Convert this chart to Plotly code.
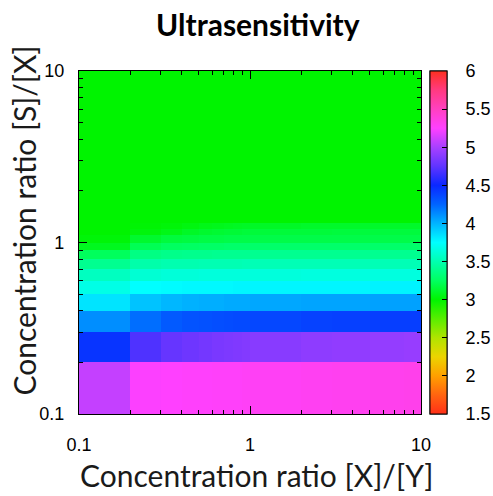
import plotly.graph_objects as go

# Cell edges (log axes)
x_edges = [0.1, 0.2, 0.3, 0.4, 0.5, 0.6, 0.7, 0.8, 0.9, 1, 2, 3, 4, 5, 6, 7, 8, 9, 10]
y_edges = [0.1, 0.2, 0.3, 0.4, 0.5, 0.6, 0.7, 0.8, 0.9, 1.0, 1.1, 1.2, 1.3, 10]

# Ultrasensitivity values, one row per y-cell (bottom to top), one value per x-cell
row_01 = [5.08, 5.24, 5.25, 5.26, 5.26, 5.27, 5.27, 5.27, 5.28, 5.29, 5.30, 5.31, 5.31, 5.32, 5.32, 5.32, 5.33, 5.33]
row_02 = [4.45, 4.70, 4.77, 4.80, 4.82, 4.84, 4.85, 4.86, 4.87, 4.89, 4.91, 4.92, 4.92, 4.93, 4.93, 4.93, 4.94, 4.94]
row_03 = [4.12, 4.22, 4.29, 4.32, 4.33, 4.34, 4.35, 4.36, 4.36, 4.37, 4.39, 4.40, 4.40, 4.41, 4.41, 4.41, 4.41, 4.41]
row_04 = [3.84, 3.95, 3.99, 4.01, 4.02, 4.02, 4.03, 4.03, 4.03, 4.04, 4.05, 4.05, 4.05, 4.06, 4.06, 4.06, 4.06, 4.06]
row_05 = [3.67, 3.75, 3.76, 3.77, 3.77, 3.77, 3.77, 3.78, 3.78, 3.78, 3.78, 3.78, 3.78, 3.79, 3.79, 3.79, 3.79, 3.79]
row_06 = [3.55, 3.61, 3.63, 3.63, 3.64, 3.64, 3.64, 3.64, 3.64, 3.64, 3.65, 3.65, 3.65, 3.65, 3.65, 3.65, 3.65, 3.65]
row_07 = [3.40, 3.48, 3.50, 3.50, 3.51, 3.51, 3.51, 3.51, 3.52, 3.52, 3.52, 3.52, 3.52, 3.52, 3.52, 3.52, 3.52, 3.52]
row_08 = [3.24, 3.36, 3.38, 3.39, 3.39, 3.40, 3.40, 3.40, 3.40, 3.40, 3.40, 3.40, 3.40, 3.40, 3.40, 3.40, 3.40, 3.40]
row_09 = [3.08, 3.22, 3.25, 3.26, 3.27, 3.27, 3.28, 3.28, 3.28, 3.28, 3.28, 3.28, 3.28, 3.28, 3.28, 3.28, 3.28, 3.28]
row_10 = [3.02, 3.12, 3.16, 3.17, 3.18, 3.18, 3.19, 3.19, 3.19, 3.19, 3.19, 3.19, 3.19, 3.19, 3.19, 3.19, 3.19, 3.19]
row_11 = [3.00, 3.03, 3.06, 3.10, 3.12, 3.13, 3.14, 3.14, 3.15, 3.15, 3.15, 3.16, 3.16, 3.16, 3.16, 3.16, 3.16, 3.16]
row_12 = [3.00, 3.01, 3.02, 3.04, 3.06, 3.07, 3.08, 3.09, 3.10, 3.10, 3.11, 3.11, 3.11, 3.11, 3.11, 3.11, 3.11, 3.11]
row_13 = [3.00, 3.00, 3.00, 3.00, 3.00, 3.00, 3.00, 3.00, 3.00, 3.00, 3.00, 3.00, 3.00, 3.00, 3.00, 3.00, 3.00, 3.00]

z_rows = [row_01, row_02, row_03, row_04, row_05, row_06, row_07, row_08, row_09,
          row_10, row_11, row_12, row_13]

# Colour bar
cb_ticks = [1.5, 2, 2.5, 3, 3.5, 4, 4.5, 5, 5.5, 6]
axis_ticks = [0.1, 1, 10]
axis_ticklabels = ["0.1", "1", "10"]
minor_ticks = [0.2, 0.3, 0.4, 0.5, 0.6, 0.7, 0.8, 0.9, 2, 3, 4, 5, 6, 7, 8, 9]

zmin, zmax = 1.5, 6.0
palette = [
    (1.5, "#ff3018"), (1.75, "#ff6410"), (2.0, "#ffa000"), (2.25, "#ecd400"),
    (2.5, "#b0e400"), (2.75, "#58ee00"), (3.0, "#00f400"), (3.25, "#00ff60"),
    (3.5, "#00ffb0"), (3.75, "#00ffff"), (4.0, "#00b4ff"), (4.25, "#0064ff"),
    (4.5, "#0a28ff"), (4.75, "#6034ff"), (5.0, "#a840ff"), (5.25, "#ff40ff"),
    (5.5, "#ff40c0"), (5.75, "#ff3a80"), (6.0, "#ff3020"),
]
colorscale = [[(v - zmin) / (zmax - zmin), c] for v, c in palette]

cb_common = dict(
    x=1.026, xanchor="left", xpad=0, y=0.5, yanchor="middle",
    len=1.0, lenmode="fraction", thickness=17, ypad=0,
    outlinecolor="black", outlinewidth=1,
    tickvals=cb_ticks, ticktext=[f"{t:g}" for t in cb_ticks],
    tickfont=dict(family="Liberation Sans", size=18, color="black"),
)

fig = go.Figure()
fig.add_trace(go.Heatmap(
    x=x_edges, y=y_edges, z=z_rows,
    zmin=zmin, zmax=zmax, colorscale=colorscale,
    colorbar=dict(cb_common, ticks="outside", ticklen=15, tickcolor="rgba(0,0,0,0)"),
    hoverinfo="skip",
))
# Same data again, only to draw the inner tick dashes of the colour bar
fig.add_trace(go.Heatmap(
    x=x_edges, y=y_edges, z=z_rows,
    zmin=zmin, zmax=zmax, colorscale=colorscale, opacity=0,
    colorbar=dict(cb_common, ticks="inside", ticklen=5, tickcolor="black",
                  showticklabels=False, bgcolor="rgba(0,0,0,0)"),
    hoverinfo="skip",
))

axis_common = dict(
    type="log", range=[-1, 1], showgrid=False, zeroline=False,
    showline=True, linecolor="black", linewidth=1.2, mirror="ticks",
    ticks="inside", ticklen=8, tickwidth=1, tickcolor="black",
    tickvals=axis_ticks, ticktext=axis_ticklabels,
    tickfont=dict(family="Liberation Sans", size=18, color="black"),
    minor=dict(tickvals=minor_ticks, ticks="inside", ticklen=4, tickcolor="black", showgrid=False),
)

fig.update_layout(
    width=493, height=496,
    margin=dict(l=79, r=72, t=71, b=82, autoexpand=False),
    paper_bgcolor="white", plot_bgcolor="white",
    xaxis=dict(axis_common, ticklabelstandoff=14),
    yaxis=dict(axis_common, ticklabelstandoff=10),
    title=dict(text="<b>Ultrasensitivity</b>", x=0.523, xanchor="center",
               y=1 - 25 / 496, yanchor="middle",
               font=dict(family="Lato", size=30, color="black")),
    annotations=[
        dict(text="Concentration ratio [X]/[Y]", xref="paper", yref="paper",
             x=0.52, y=-0.178, xanchor="center", yanchor="middle", showarrow=False,
             font=dict(family="Lato", size=30, color="#1a1a1a")),
        dict(text="Concentration ratio [S]/[X]", xref="paper", yref="paper",
             x=-0.16, y=0.565, xanchor="center", yanchor="middle", showarrow=False,
             textangle=-90,
             font=dict(family="Lato", size=30, color="#1a1a1a")),
    ],
)

fig.write_html("out.html")
